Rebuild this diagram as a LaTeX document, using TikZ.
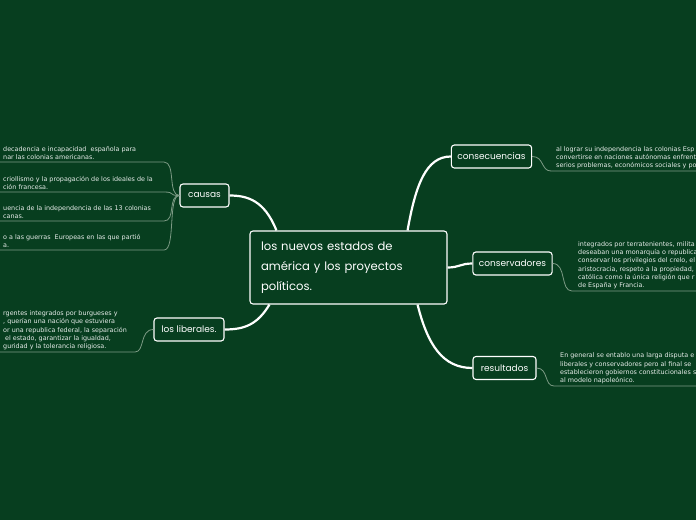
\documentclass[tikz,border=0pt]{standalone}
\usepackage{fontspec}
\newfontfamily\leaffont{DejaVu Sans}
\newfontfamily\topicfont{Poppins}
\usetikzlibrary{positioning}
\definecolor{board}{RGB}{7,62,31}
\definecolor{twigcol}{RGB}{125,155,133}
\begin{document}
\begin{tikzpicture}[x=1pt,y=-1pt,
    topic/.style={draw=white, line width=1.1pt, rounded corners=3pt, text=white, font=\topicfont\fontsize{9}{10}\selectfont, minimum height=23pt, inner xsep=6pt, inner ysep=0pt},
    leaf/.style={text=white!90!board, font=\leaffont\fontsize{6.4}{8.2}\selectfont, align=left, inner sep=0pt, anchor=south west},
    branch/.style={draw=white, line width=2.2pt},
    twig/.style={draw=twigcol, line width=0.8pt}]

    \fill[board] (0,0) rectangle (696,520);
    \useasboundingbox (0,0) rectangle (696,520);
    \clip (0,0) rectangle (696,520);
    \coordinate (leftedge) at (0,0);
    \coordinate (rightedge) at (696,0);

    % main topic and subtopics
    \node[topic, minimum width=197pt, minimum height=73pt, text width=175pt, align=left,
          font=\topicfont\fontsize{11.6}{20}\selectfont] (hub) at (348.5,267.5)
          {los nuevos estados de\\américa y los proyectos\\políticos.};
    \node[topic, minimum width=49pt] (causas) at (204.5,195.5) {causas};
    \node[topic, minimum width=70pt] (liberales) at (189,329.5) {los liberales.};
    \node[topic, minimum width=79pt] (consec) at (491.5,156.5) {consecuencias};
    \node[topic, minimum width=79pt] (conserv) at (512.5,263.5) {conservadores};
    \node[topic, minimum width=63pt] (result) at (504.5,368) {resultados};

    \draw[branch] ([xshift=27pt]hub.north west) .. controls +(-12,-30) and +(18,0) .. (causas.east);
    \draw[branch] ([xshift=20pt]hub.south west) .. controls +(-12,20) and +(20,0) .. (liberales.east);
    \draw[branch] ([xshift=-40pt]hub.north east) .. controls +(8,-45) and +(-25,0) .. (consec.west);
    \draw[branch] (hub.east) .. controls +(12,0) and +(-12,0) .. (conserv.west);
    \draw[branch] ([xshift=-30pt]hub.south east) .. controls +(10,40) and +(-30,0) .. (result.west);

    % causas
    \foreach \i/\y in {1/162,2/192,3/221,4/250}{
        \coordinate (cause\i) at (164,\y);
        \draw[twig] (causas.west) .. controls +(-12,0) and +(12,0) .. (cause\i) -- (cause\i -| leftedge);
    }
    \node[leaf] (causetext1) at (3,160) {decadencia e incapacidad\ \ española para\\nar las colonias americanas.};
    \node[leaf] (causetext2) at (3,190) {criollismo y la propagación de los ideales de la\\ción francesa.};
    \node[leaf] (causetext3) at (3,219) {uencia de la independencia de las 13 colonias\\canas.};
    \node[leaf] (causetext4) at (3,248) {o a las guerras\ \ Europeas en las que partió\\a.};

    % los liberales
    \coordinate (libline) at (135,352);
    \draw[twig] (liberales.west) .. controls +(-14,0) and +(10,0) .. (libline) -- (libline -| leftedge);
    \node[leaf] (libtext) at (3,350) {rgentes integrados por burgueses y\\, querían una nación que estuviera\\or una republica federal, la separación\\\hspace{2pt}el estado, garantizar la igualdad,\\guridad y la tolerancia religiosa.};

    % consecuencias
    \coordinate (consline) at (551,171);
    \draw[twig] (consec.east) .. controls +(12,0) and +(-10,0) .. (consline) -- (consline -| rightedge);
    \node[leaf] (constext) at (556,169) {al lograr su independencia las colonias Esp\\convertirse en naciones autónomas enfrent\\serios problemas, económicos sociales y po};

    % conservadores
    \coordinate (servline) at (572,291);
    \draw[twig] (conserv.east) .. controls +(14,0) and +(-12,0) .. (servline) -- (servline -| rightedge);
    \node[leaf] (servtext) at (578,289) {integrados por terratenientes, milita\\deseaban una monarquía o republica\\conservar los privilegios del crelo, el\\aristocracia, respeto a la propiedad,\\católica como la única religión que r\\de España y Francia.};

    % resultados
    \coordinate (resline) at (554,386);
    \draw[twig] (result.east) .. controls +(12,0) and +(-10,0) .. (resline) -- (resline -| rightedge);
    \node[leaf] (restext) at (560,384) {En general se entablo una larga disputa e\\liberales y conservadores pero al final se\\establecieron gobiernos constitucionales s\\al modelo napoleónico.};
\end{tikzpicture}
\end{document}
